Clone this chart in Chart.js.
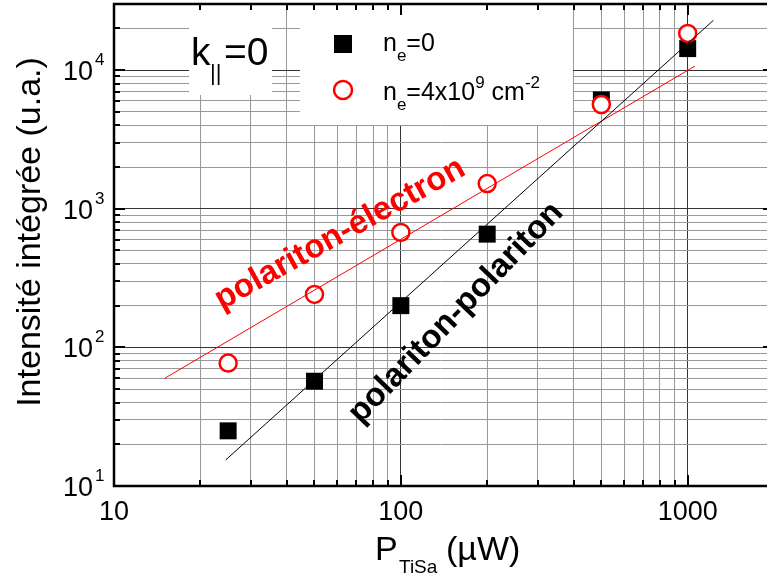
<!DOCTYPE html>
<html lang="fr">
<head>
<meta charset="UTF-8">
<title>Intensité intégrée vs P TiSa</title>
<style>
  body { margin: 0; background: #fff; }
  #wrap { width: 767px; height: 578px; }
</style>
</head>
<body>
<div id="wrap"><canvas id="chart" width="767" height="578"></canvas></div>
<script src="https://cdn.jsdelivr.net/npm/chart.js@4"></script>
<script>
// data
const power = [25, 50, 100, 200, 500, 1000];           // P_TiSa (µW)
const intensityNe0 = [25, 57, 200, 656, 6100, 14300];  // n_e = 0
const intensityNe4e9 = [77, 241, 675, 1520, 5650, 18400]; // n_e = 4x10^9 cm^-2
// fitted lines (end points)
const fitPolPolX = [24.5, 1230];
const fitPolPolY = [15.4, 22900];
const fitPolElX = [15, 1060];
const fitPolElY = [59.7, 10700];
// axes
const xDecades = [10, 100, 1000];
const yDecades = [10, 100, 1000, 10000];
const yExponents = ["1", "2", "3", "4"];
const minorSteps = [1, 2, 3, 4, 5, 6, 7, 8, 9];
const xMin = 10, xMax = 1890;
const yMin = 10, yMax = 30000;

const FONT = '"Liberation Sans", Arial, Helvetica, sans-serif';

function toPoints(xs, ys) {
  return xs.map((v, i) => ({ x: v, y: ys[i] }));
}

function isMajor(v) {
  const l = Math.log10(v);
  return Math.abs(l - Math.round(l)) < 1e-9;
}

function logTicks(decades, max) {
  const out = [];
  decades.forEach((d) => {
    minorSteps.forEach((m) => {
      const v = d * m;
      if (v <= max + 1e-9) out.push({ value: v });
    });
  });
  return out;
}

function gridColor(c) {
  if (!c.tick) return "#999";
  return isMajor(c.tick.value) ? "#333" : "#999";
}

const decorations = {
  id: "decorations",
  beforeDatasetsDraw(chart) {
    const ctx = chart.ctx;
    ctx.save();
    ctx.fillStyle = "#fff";
    // white boxes behind the "k=0" label and the legend
    ctx.fillRect(189, 5, 83, 90);
    ctx.fillRect(300, 5, 273, 120);
    ctx.restore();
  },
  afterDraw(chart) {
    const { ctx, chartArea: a } = chart;
    const x = chart.scales.x;
    const y = chart.scales.y;
    const rightAxis = a.right + 7; // right axis sits just outside the picture
    ctx.save();

    // frame (left, top, bottom; the right side is cut off)
    ctx.strokeStyle = "#000";
    ctx.lineWidth = 2.5;
    ctx.beginPath();
    ctx.moveTo(a.right + 2, a.top);
    ctx.lineTo(a.left, a.top);
    ctx.lineTo(a.left, a.bottom);
    ctx.lineTo(a.right + 2, a.bottom);
    ctx.stroke();

    // inward ticks
    ctx.lineWidth = 2;
    ctx.beginPath();
    x.ticks.forEach((t) => {
      const px = Math.round(x.getPixelForValue(t.value));
      const len = isMajor(t.value) ? 11 : 6;
      ctx.moveTo(px, a.bottom);
      ctx.lineTo(px, a.bottom - len);
      ctx.moveTo(px, a.top);
      ctx.lineTo(px, a.top + len);
    });
    y.ticks.forEach((t) => {
      const py = Math.round(y.getPixelForValue(t.value));
      const len = isMajor(t.value) ? 11 : 6;
      ctx.moveTo(a.left, py);
      ctx.lineTo(a.left + len, py);
      ctx.moveTo(rightAxis, py);
      ctx.lineTo(rightAxis - len, py);
    });
    ctx.stroke();

    // x tick labels
    ctx.fillStyle = "#000";
    ctx.font = "27px " + FONT;
    ctx.textAlign = "center";
    ctx.textBaseline = "alphabetic";
    xDecades.forEach((v) => {
      ctx.fillText(String(v), x.getPixelForValue(v), 520);
    });

    // y tick labels 10^n
    yDecades.forEach((v, i) => {
      const py = y.getPixelForValue(v);
      ctx.font = "27px " + FONT;
      ctx.textAlign = "right";
      ctx.fillText("10", 93, py + 10);
      ctx.font = "17px " + FONT;
      ctx.textAlign = "left";
      ctx.fillText(yExponents[i], 95, py - 5);
    });

    // y axis title
    ctx.save();
    ctx.translate(40, 232);
    ctx.rotate(-Math.PI / 2);
    ctx.font = "34px " + FONT;
    ctx.textAlign = "center";
    ctx.fillText("Intensité intégrée (u.a.)", 0, 0);
    ctx.restore();

    // x axis title P_TiSa (µW)
    ctx.textAlign = "left";
    ctx.font = "34px " + FONT;
    ctx.fillText("P", 375, 560);
    ctx.font = "19px " + FONT;
    ctx.fillText("TiSa", 399, 573);
    ctx.font = "34px " + FONT;
    ctx.fillText("(µW)", 446, 560);

    // k|| = 0 label
    ctx.font = "39px " + FONT;
    ctx.fillText("k", 191, 65);
    ctx.font = "22px " + FONT;
    ctx.fillText("||", 210, 80);
    ctx.font = "39px " + FONT;
    ctx.fillText("=0", 224, 65);

    // legend
    ctx.fillStyle = "#000";
    ctx.fillRect(334, 35, 18, 18);
    ctx.beginPath();
    ctx.arc(343, 90, 9, 0, Math.PI * 2);
    ctx.fillStyle = "#fff";
    ctx.fill();
    ctx.strokeStyle = "#ff0000";
    ctx.lineWidth = 2.5;
    ctx.stroke();

    ctx.fillStyle = "#000";
    let cx = 383;
    const seg = (txt, size, dy) => {
      ctx.font = size + "px " + FONT;
      ctx.fillText(txt, cx, dy);
      cx += ctx.measureText(txt).width;
    };
    seg("n", 25, 51);
    seg("e", 17, 61);
    seg("=0", 25, 51);
    cx = 383;
    seg("n", 25, 100);
    seg("e", 17, 110);
    seg("=4x10", 25, 100);
    seg("9", 17, 88);
    seg(" cm", 25, 100);
    seg("-2", 17, 88);

    // annotations
    ctx.font = "bold 33px " + FONT;
    ctx.textAlign = "center";
    ctx.textBaseline = "middle";
    ctx.save();
    ctx.translate(340, 234);
    ctx.rotate(-29 * Math.PI / 180);
    ctx.fillStyle = "#ff0000";
    ctx.fillText("polariton-électron", 0, 0);
    ctx.restore();
    ctx.save();
    ctx.translate(456, 313);
    ctx.rotate(-46 * Math.PI / 180);
    ctx.fillStyle = "#000";
    ctx.fillText("polariton-polariton", 0, 0);
    ctx.restore();

    ctx.restore();
  },
};

new Chart(document.getElementById("chart"), {
  type: "scatter",
  data: {
    datasets: [
      {
        label: "fit polariton-polariton",
        data: toPoints(fitPolPolX, fitPolPolY),
        showLine: true,
        borderColor: "#000",
        borderWidth: 1,
        pointRadius: 0,
        order: 0,
      },
      {
        label: "fit polariton-électron",
        data: toPoints(fitPolElX, fitPolElY),
        showLine: true,
        borderColor: "#ff0000",
        borderWidth: 1,
        pointRadius: 0,
        order: 0,
      },
      {
        label: "n_e=4x10^9 cm^-2",
        data: toPoints(power, intensityNe4e9),
        pointStyle: "circle",
        pointRadius: 8.5,
        borderWidth: 2.5,
        borderColor: "#ff0000",
        backgroundColor: "#fff",
        order: 1,
      },
      {
        label: "n_e=0",
        data: toPoints(power, intensityNe0),
        pointStyle: "rect",
        pointRadius: 12,
        borderWidth: 0,
        backgroundColor: "#000",
        order: 2,
      },
    ],
  },
  plugins: [decorations],
  options: {
    responsive: false,
    animation: false,
    devicePixelRatio: 1,
    layout: { autoPadding: false, padding: { top: 4, right: 0, left: 0, bottom: 0 } },
    plugins: {
      legend: { display: false },
      tooltip: { enabled: false },
    },
    scales: {
      x: {
        type: "logarithmic",
        position: "bottom",
        min: xMin,
        max: xMax,
        afterBuildTicks: (s) => { s.ticks = logTicks(xDecades, xMax); },
        afterFit: (s) => { s.height = 92; s.paddingLeft = 0; s.paddingRight = 0; },
        ticks: { display: false },
        border: { display: false },
        grid: { color: gridColor, lineWidth: 1, drawTicks: false },
      },
      y: {
        type: "logarithmic",
        position: "left",
        min: yMin,
        max: yMax,
        afterBuildTicks: (s) => { s.ticks = logTicks(yDecades, yMax); },
        afterFit: (s) => { s.width = 114; s.paddingTop = 0; s.paddingBottom = 0; },
        ticks: { display: false },
        border: { display: false },
        grid: { color: gridColor, lineWidth: 1, drawTicks: false },
      },
    },
  },
});
</script>
</body>
</html>
